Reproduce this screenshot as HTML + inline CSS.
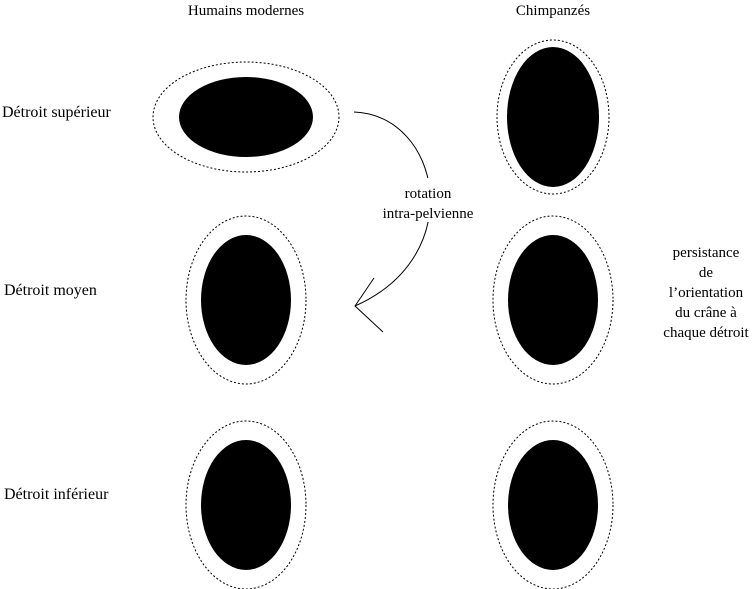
<!DOCTYPE html>
<html><head><style>
html,body{margin:0;padding:0;background:#fff;}
svg{display:block;}
text{font-family:"Liberation Serif",serif;font-size:15px;fill:#000;}
</style></head><body>
<svg width="754" height="589" viewBox="0 0 754 589" xmlns="http://www.w3.org/2000/svg">
<g fill="none" stroke="#000" stroke-width="1" stroke-dasharray="2,2">
<ellipse cx="246" cy="117" rx="93" ry="55"/>
<ellipse cx="553" cy="117" rx="56" ry="77"/>
<ellipse cx="246" cy="300" rx="60" ry="84"/>
<ellipse cx="553" cy="300" rx="60" ry="84"/>
<ellipse cx="246" cy="505" rx="60" ry="84"/>
<ellipse cx="553" cy="505" rx="60" ry="84"/>
</g>
<g fill="#000">
<ellipse cx="246" cy="117" rx="67" ry="40"/>
<ellipse cx="553" cy="117" rx="46" ry="70"/>
<ellipse cx="246" cy="300" rx="45" ry="65"/>
<ellipse cx="553" cy="300" rx="45" ry="65"/>
<ellipse cx="246" cy="505" rx="45" ry="65"/>
<ellipse cx="553" cy="505" rx="45" ry="65"/>
</g>
<path d="M354,112 C440,115 470,255 355,306" fill="none" stroke="#000" stroke-width="1"/>
<path d="M374,278 L355,306 L383,332" fill="none" stroke="#000" stroke-width="1"/>
<rect x="380" y="178" width="100" height="44" fill="#fff"/>
<text x="246" y="15" text-anchor="middle">Humains modernes</text>
<text x="553" y="15" text-anchor="middle">Chimpanzés</text>
<text x="2" y="117" style="font-size:16px">Détroit supérieur</text>
<text x="4" y="295" style="font-size:16px">Détroit moyen</text>
<text x="4" y="499" style="font-size:16px">Détroit inférieur</text>
<text x="428" y="198" text-anchor="middle">rotation</text>
<text x="428" y="218" text-anchor="middle">intra-pelvienne</text>
<g text-anchor="middle">
<text x="706" y="257">persistance</text>
<text x="706" y="277">de</text>
<text x="706" y="297">l’orientation</text>
<text x="706" y="317">du crâne à</text>
<text x="706" y="337">chaque détroit</text>
</g>
</svg>
</body></html>
